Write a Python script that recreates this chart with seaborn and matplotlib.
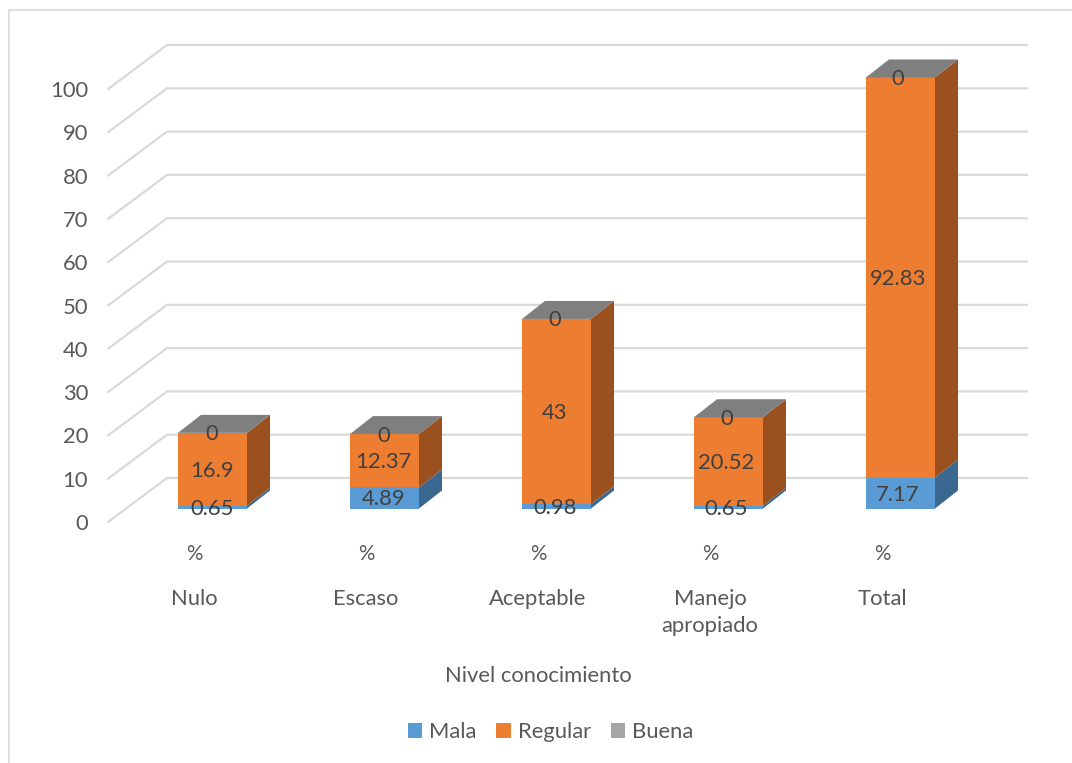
import matplotlib
matplotlib.use("Agg")
import matplotlib.pyplot as plt
import seaborn as sns
import numpy as np
from matplotlib.lines import Line2D
from matplotlib.patches import Polygon, Patch
from matplotlib.transforms import Affine2D

categories = ["Nulo", "Escaso", "Aceptable", "Manejo\napropiado", "Total"]
unit_label = "%"
mala = [0.65, 4.89, 0.98, 0.65, 7.17]
regular = [16.9, 12.37, 43, 20.52, 92.83]
buena = [0, 0, 0, 0, 0]
series_names = ["Mala", "Regular", "Buena"]
y_ticks = list(range(0, 101, 10))
x_title = "Nivel conocimiento"

W, H = 1072, 763
sns.set_theme(style="white")
plt.rcParams["font.family"] = ["Lato", "DejaVu Sans"]
FS = 15.8
TXT = "#595959"
LBL = "#404040"
GRID = "#D9D9D9"
FRONT = ["#5B9BD5", "#ED7D31", "#A5A5A5"]
SIDE = ["#3B6890", "#9A511F", "#6B6B6B"]
TOP = "#7F7F7F"

fig = plt.figure(figsize=(W / 100, H / 100), dpi=100, facecolor="white")
L, R, T0, B0 = 108, 968, 89, 522
ax = fig.add_axes([L / W, 1 - B0 / H, (R - L) / W, (B0 - T0) / H])
ax.patch.set_alpha(0)

x_px = (R - L) / 5
y_px = (B0 - T0) / 100
# projection offsets, in data units
bar_dx, bar_dy = 18.5 / x_px, 13.5 / y_px
bar_sy = 0.9955
depth_dx, depth_dy = 23 / x_px, 18 / y_px
wall_dx, wall_dy = 59 / x_px, 44 / y_px
width = 69 / x_px
label_dx0, label_dx1 = -0.5 / x_px, -0.6 / x_px
label_dy = -1.5 / y_px


def by(v):
    return v * bar_sy + bar_dy


# stacked fronts through seaborn
bottom = np.zeros(len(categories))
xpos = np.arange(len(categories))
all_vals = [np.array(mala), np.array(regular), np.array(buena)]
for vals, col in zip(all_vals, FRONT):
    sns.barplot(x=categories, y=vals, bottom=bottom, color=col, saturation=1,
                width=width, ax=ax, zorder=3, linewidth=0, legend=False)
    bottom = bottom + vals

ax.set_xlim(-0.5, 4.5)
ax.set_ylim(0, 100)

shift = Affine2D().scale(1, bar_sy).translate(bar_dx, bar_dy)
for p in ax.patches:
    p.set_transform(shift + ax.transData)
    p.set_clip_on(False)

# walls: grid lines projected through the data scale
for t in y_ticks:
    ax.plot([-0.5, -0.5 + wall_dx, 4.5 + wall_dx], [t, t + wall_dy, t + wall_dy],
            color=GRID, lw=1.6, clip_on=False, zorder=1, solid_joinstyle="miter")

# side and top faces
bottom = np.zeros(len(categories))
for vals, scol in zip(all_vals, SIDE):
    for i, (b, v) in enumerate(zip(bottom, vals)):
        if v <= 0:
            continue
        xr = i + width / 2 + bar_dx
        y0, y1 = by(b), by(b + v)
        ax.add_patch(Polygon([(xr, y0), (xr + depth_dx, y0 + depth_dy),
                              (xr + depth_dx, y1 + depth_dy), (xr, y1)],
                             closed=True, fc=scol, ec="none", clip_on=False, zorder=3))
    bottom = bottom + vals
for i, b in enumerate(bottom):
    xl, xr = i - width / 2 + bar_dx, i + width / 2 + bar_dx
    yt = by(b)
    ax.add_patch(Polygon([(xl, yt), (xr, yt), (xr + depth_dx, yt + depth_dy),
                          (xl + depth_dx, yt + depth_dy)],
                         closed=True, fc=TOP, ec="none", clip_on=False, zorder=3))

# data labels
bottom = np.zeros(len(categories))
for vals in all_vals:
    for i, (b, v) in enumerate(zip(bottom, vals)):
        ax.text(i + bar_dx + label_dx0 + i * label_dx1, by(b + v / 2) + label_dy, f"{v:g}",
                ha="center", va="center", fontsize=FS, color=LBL, zorder=5, clip_on=False)
    bottom = bottom + vals

# axes
sns.despine(ax=ax, left=True, bottom=True, top=True, right=True)
ax.set_yticks(y_ticks)
ax.set_yticklabels([str(t) for t in y_ticks], fontsize=FS, color=TXT)
ax.tick_params(axis="y", length=0, pad=14.4)
ax.set_xticks(xpos)
ax.set_xticklabels(categories, fontsize=FS, color=TXT, linespacing=1.42)
ax.tick_params(axis="x", length=0, pad=48.5)
ax.grid(False)
for i in xpos:
    ax.annotate(unit_label, xy=(i, 0), xycoords=("data", "axes fraction"),
                xytext=(0, -(554 - B0) * 0.72), textcoords="offset points",
                ha="center", va="center", fontsize=FS - 1, color=TXT, annotation_clip=False)
ax.set_xlabel(x_title, fontsize=FS, color=TXT, va="center")
ax.xaxis.set_label_coords(0.5, (B0 - 676.5) / (B0 - T0))

# legend
handles = [Patch(fc=c, ec="none", label=n) for c, n in zip(FRONT, series_names)]
fig.legend(handles=handles, loc="center", bbox_to_anchor=(550.5 / W, 1 - 732 / H), ncol=3,
           frameon=False, fontsize=FS, labelcolor=TXT, handlelength=0.64, handleheight=0.64,
           handletextpad=0.32, columnspacing=0.92, borderpad=0)

# chart border
fig.add_artist(Line2D([8.5 / W, 8.5 / W, 1], [0, 1 - 9.5 / H, 1 - 9.5 / H],
                      transform=fig.transFigure, color=GRID, lw=1.2))

fig.savefig("out.png", dpi=100, facecolor="white")
